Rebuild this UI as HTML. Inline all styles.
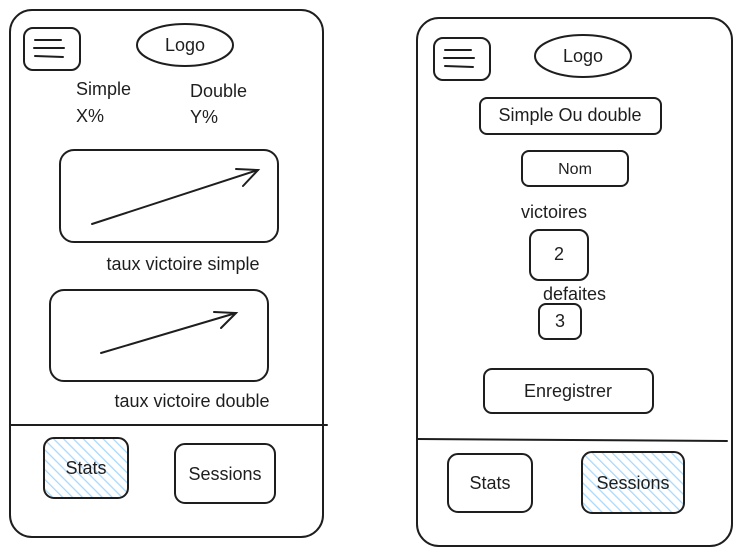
<!DOCTYPE html>
<html><head><meta charset="utf-8"><style>
html,body{margin:0;padding:0;background:#fff;}
svg{display:block;}
text{font-family:"Liberation Sans",sans-serif;fill:#1e1e1e;}
</style></head><body>
<svg width="741" height="556" viewBox="0 0 741 556" xmlns="http://www.w3.org/2000/svg">
<defs>
<pattern id="h" width="7" height="7" patternUnits="userSpaceOnUse" patternTransform="rotate(-45)">
<rect width="7" height="7" fill="#fff"/><line x1="0" y1="0" x2="0" y2="7" stroke="#a5d8ff" stroke-width="2.5"/>
</pattern>
</defs>
<g fill="none" stroke="#1e1e1e" stroke-width="2" stroke-linecap="round">
<!-- left phone -->
<rect x="10" y="10" width="313" height="527" rx="22"/>
<rect x="24" y="28" width="56" height="42" rx="9"/>
<line x1="35" y1="40" x2="61" y2="40"/><line x1="34" y1="48" x2="64" y2="48"/><line x1="35" y1="56" x2="63" y2="57"/>
<ellipse cx="185" cy="45" rx="48" ry="21"/>
<rect x="60" y="150" width="218" height="92" rx="14"/>
<line x1="92" y1="224" x2="258" y2="170"/><polyline points="236,169 258,170 243,186"/>
<rect x="50" y="290" width="218" height="91" rx="14"/>
<line x1="101" y1="353" x2="236" y2="313"/><polyline points="214,312 236,313 221,328"/>
<line x1="10" y1="425" x2="327" y2="425"/>
<rect x="44" y="438" width="84" height="60" rx="10" fill="url(#h)"/>
<rect x="175" y="444" width="100" height="59" rx="10"/>
<!-- right phone -->
<rect x="417" y="18" width="315" height="528" rx="22"/>
<rect x="434" y="38" width="56" height="42" rx="9"/>
<line x1="445" y1="50" x2="471" y2="50"/><line x1="444" y1="58" x2="474" y2="58"/><line x1="445" y1="66" x2="473" y2="67"/>
<ellipse cx="583" cy="56" rx="48" ry="21"/>
<rect x="480" y="98" width="181" height="36" rx="7"/>
<rect x="522" y="151" width="106" height="35" rx="7"/>
<rect x="530" y="230" width="58" height="50" rx="9"/>
<rect x="539" y="304" width="42" height="35" rx="7"/>
<rect x="484" y="369" width="169" height="44" rx="8"/>
<line x1="417" y1="439" x2="727" y2="441"/>
<rect x="448" y="454" width="84" height="58" rx="10"/>
<rect x="582" y="452" width="102" height="61" rx="10" fill="url(#h)"/>
</g>
<g font-size="18">
<text x="185" y="51" text-anchor="middle">Logo</text>
<text x="76" y="95">Simple</text><text x="76" y="122">X%</text>
<text x="190" y="97">Double</text><text x="190" y="123">Y%</text>
<text x="183" y="270" text-anchor="middle">taux victoire simple</text>
<text x="192" y="407" text-anchor="middle">taux victoire double</text>
<text x="86" y="474" text-anchor="middle">Stats</text>
<text x="225" y="480" text-anchor="middle">Sessions</text>
<text x="583" y="62" text-anchor="middle">Logo</text>
<text x="570" y="121" text-anchor="middle">Simple Ou double</text>
<text x="575" y="174" text-anchor="middle" font-size="16">Nom</text>
<text x="521" y="218">victoires</text>
<text x="559" y="260" text-anchor="middle">2</text>
<text x="543" y="300">defaites</text>
<text x="560" y="327" text-anchor="middle">3</text>
<text x="568" y="397" text-anchor="middle">Enregistrer</text>
<text x="490" y="489" text-anchor="middle">Stats</text>
<text x="633" y="489" text-anchor="middle">Sessions</text>
</g>
</svg>
</body></html>
